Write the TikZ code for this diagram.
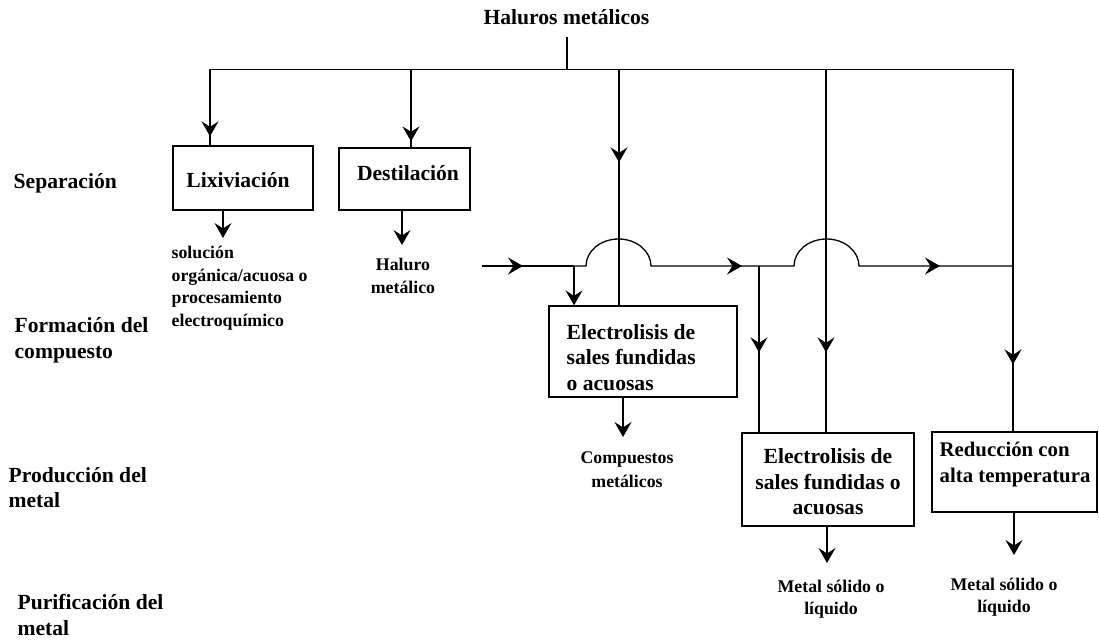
\documentclass[tikz,border=0pt]{standalone}
\usepackage{fontspec}
\setmainfont{Liberation Serif}
\usetikzlibrary{arrows.meta,decorations.markings}
\begin{document}
\begin{tikzpicture}[x=1pt,y=-1pt,line width=1.3pt,
  big/.style={inner sep=0pt,font=\fontsize{21.6}{25.5}\selectfont\bfseries},
  small/.style={inner sep=0pt,font=\fontsize{17.8}{22.5}\selectfont\bfseries},
  box/.style={draw,rectangle,inner sep=0pt},
  arr/.style={-{Stealth[length=15pt,width=17pt,inset=5.5pt]}},
  midarrow/.style={postaction={decorate,decoration={markings,mark=at position #1 with {\arrow{Stealth[length=15pt,width=17pt,inset=5.5pt]}}}}}
]
\useasboundingbox (0,0) rectangle (1099,640);

% title
\node[big] (title) at (566.5,17) {Haluros metálicos};

% stage labels
\node[big,anchor=west] (sep) at (13,183) {Separación};
\node[big,anchor=west,align=left] (form) at (14,340.5) {Formación del\\compuesto};
\node[big,anchor=west,align=left] (prod) at (8,487.5) {Producción del\\metal};
\node[big,anchor=west,align=left] (puri) at (17,615) {Purificación del\\metal};

% boxes
\node[box,minimum width=140pt,minimum height=64pt] (lix) at (243,178) {};
\node[big] (lixt) at (238,180) {Lixiviación};
\node[box,minimum width=131pt,minimum height=62pt] (des) at (404.5,179) {};
\node[big] (dest) at (408,173) {Destilación};
\node[box,minimum width=188pt,minimum height=91pt] (e1) at (643,351.5) {};
\node[big,anchor=west,align=left] (e1t) at (566,357.5) {Electrolisis de\\sales fundidas\\o acuosas};
\node[box,minimum width=172pt,minimum height=93pt] (e2) at (828,479.5) {};
\node[big,align=center] (e2t) at (828,482) {Electrolisis de\\sales fundidas o\\acuosas};
\node[box,minimum width=165pt,minimum height=80pt] (red) at (1014.5,472) {};
\node[big,anchor=west,align=left,font=\fontsize{20.8}{25.5}\selectfont\bfseries] (redt) at (939,464.5) {Reducción con\\alta temperatura};

% outputs
\node[small,anchor=west,align=left] (sol) at (171,288) {solución\\orgánica/acuosa o\\procesamiento\\electroquímico};
\node[small,align=center] (hal) at (403,276) {Haluro\\metálico};
\node[small,align=center,font=\fontsize{17.8}{24}\selectfont\bfseries] (comp) at (627,470) {Compuestos\\metálicos};
\node[small,align=center] (met1) at (831,599) {Metal sólido o\\líquido};
\node[small,align=center] (met2) at (1004,597) {Metal sólido o\\líquido};

% coordinates
\coordinate (tdrop) at (567,37);
\coordinate (bus) at (567,69.5);
\coordinate (bl) at (210,69.5);
\coordinate (b2) at (411,69.5);
\coordinate (b3) at (619,69.5);
\coordinate (b4) at (826,69.5);
\coordinate (br) at (1013,69.5);
\coordinate (hin) at (482,266);
\coordinate (j1) at (574,266);
\coordinate (j2) at (759,266);
\coordinate (lixout) at (223,238);
\coordinate (desout) at (402,245);
\coordinate (e1out) at (623,437);
\coordinate (e2out) at (827,563);
\coordinate (redout) at (1014,555);

% bus
\draw (tdrop) -- (bus);
\draw[midarrow=-9pt] (bus) -- (bl) -- (bl |- lix.north);
\draw[midarrow=-67pt] (bus) -- (br) -- (br |- red.north);
\draw[midarrow=-6pt] (b2) -- (b2 |- des.north);
\draw[midarrow=-143pt] (b3) -- (b3 |- e1.north);
\draw[midarrow=-80pt] (b4) -- (b4 |- e2.north);

% horizontal feed with hops
\draw[midarrow=41pt] (hin) -- (j1);
\draw[midarrow=-17pt] (j1) -- ++(12,0) arc[start angle=180,end angle=0,x radius=32.5pt,y radius=27pt] -- (j2);
\draw[midarrow=-73pt] (j2) -- ++(35,0) arc[start angle=180,end angle=0,x radius=32.5pt,y radius=27pt] -- (br |- j2);
\draw[arr] (j1) -- (j1 |- e1.north);
\draw[midarrow=-80pt] (j2) -- (j2 |- e2.north);

% outputs arrows
\draw[arr] (lixout |- lix.south) -- (lixout);
\draw[arr] (desout |- des.south) -- (desout);
\draw[arr] (e1out |- e1.south) -- (e1out);
\draw[arr] (e2out |- e2.south) -- (e2out);
\draw[arr] (redout |- red.south) -- (redout);
\end{tikzpicture}
\end{document}
